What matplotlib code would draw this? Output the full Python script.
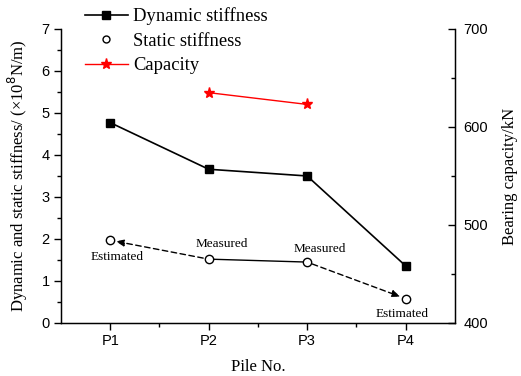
import matplotlib
matplotlib.use("Agg")
import matplotlib.pyplot as plt
from matplotlib.ticker import MultipleLocator
from matplotlib.lines import Line2D

piles = ["P1", "P2", "P3", "P4"]
dynamic = [4.77, 3.66, 3.50, 1.36]
static = [1.97, 1.52, 1.45, 0.58]
cap_piles = ["P2", "P3"]
capacity = [635, 623]

serif = ["Liberation Serif", "DejaVu Serif"]
sans = ["Liberation Sans", "DejaVu Sans"]

fig = plt.figure(figsize=(5.21, 3.76), dpi=100)
ax = fig.add_axes([0.117, 0.141, 0.756, 0.782])
x = list(range(1, len(piles) + 1))
xi = {p: i + 1 for i, p in enumerate(piles)}

ax.plot(x, dynamic, color="black", marker="s", markersize=5.5, lw=1.2, zorder=3)

# static: solid between measured, dashed arrows to estimated
ax.plot(x[1:3], static[1:3], color="black", lw=1.0, zorder=2)
ax.annotate("", xy=(x[0], static[0]), xytext=(x[1], static[1]),
            arrowprops=dict(arrowstyle="-|>,head_length=0.5,head_width=0.2", color="black",
                            linestyle=(0, (4, 2.5)), lw=1.0, shrinkA=4, shrinkB=4))
ax.annotate("", xy=(x[3], static[3]), xytext=(x[2], static[2]),
            arrowprops=dict(arrowstyle="-|>,head_length=0.5,head_width=0.2", color="black",
                            linestyle=(0, (4, 2.5)), lw=1.0, shrinkA=4, shrinkB=4))
ax.plot(x, static, ls="none", marker="o", markersize=6, mfc="white", mec="black", mew=1.0, zorder=4)

labels = ["Estimated", "Measured", "Measured", "Estimated"]
offsets = [(4.7, -12), (9.4, 10.8), (9, 9.6), (-2.2, -10.8)]
for xv, yv, t, off in zip(x, static, labels, offsets):
    ax.annotate(t, xy=(xv, yv), xytext=off, textcoords="offset points",
                ha="center", va="center", fontsize=9.5, family=serif)

ax.set_xlim(0.5, 4.5)
ax.set_ylim(0, 7)
ax.set_xticks(x)
ax.set_xticklabels(piles)
ax.set_xticks([1.5, 2.5, 3.5], minor=True)
ax.yaxis.set_major_locator(MultipleLocator(1))
ax.yaxis.set_minor_locator(MultipleLocator(0.5))
ax.tick_params(axis="both", which="major", direction="out", length=5, width=1, labelsize=10.5, pad=3)
ax.tick_params(axis="both", which="minor", direction="out", length=3, width=1)
for lab in ax.get_xticklabels() + ax.get_yticklabels():
    lab.set_family(sans)
ax.spines["top"].set_visible(False)
for s in ["left", "bottom", "right"]:
    ax.spines[s].set_linewidth(1.0)
ax.set_xlabel("Pile No.", fontsize=12, family=serif, labelpad=8)
ax.set_ylabel("Dynamic and static stiffness/ (\u00d710$^{8}$N/m)", fontsize=12, family=serif, labelpad=8)

ax2 = ax.twinx()
ax2.plot([xi[p] for p in cap_piles], capacity, color="red", marker="*", markersize=8, lw=1.0, zorder=3)
ax2.set_ylim(400, 700)
ax2.yaxis.set_major_locator(MultipleLocator(100))
ax2.yaxis.set_minor_locator(MultipleLocator(50))
ax2.tick_params(axis="y", which="major", direction="in", length=5, width=1, labelsize=10.5, pad=6)
ax2.tick_params(axis="y", which="minor", direction="in", length=3, width=1)
for lab in ax2.get_yticklabels():
    lab.set_family(sans)
ax2.spines["top"].set_visible(False)
ax2.set_ylabel("Bearing capacity/kN", fontsize=12, family=serif, labelpad=10)

handles = [
    Line2D([], [], color="black", marker="s", markersize=5.5, lw=1.2),
    Line2D([], [], ls="none", marker="o", markersize=5, mfc="white", mec="black"),
    Line2D([], [], color="red", marker="*", markersize=8, lw=1.0),
]
fig.legend(handles, ["Dynamic stiffness", "Static stiffness", "Capacity"],
           loc="upper left", bbox_to_anchor=(0.149, 1.0), frameon=False,
           prop={"family": serif, "size": 13.4}, handlelength=2.3, labelspacing=0.4,
           handletextpad=0.27, borderaxespad=0)

fig.savefig("out.png", dpi=100)
